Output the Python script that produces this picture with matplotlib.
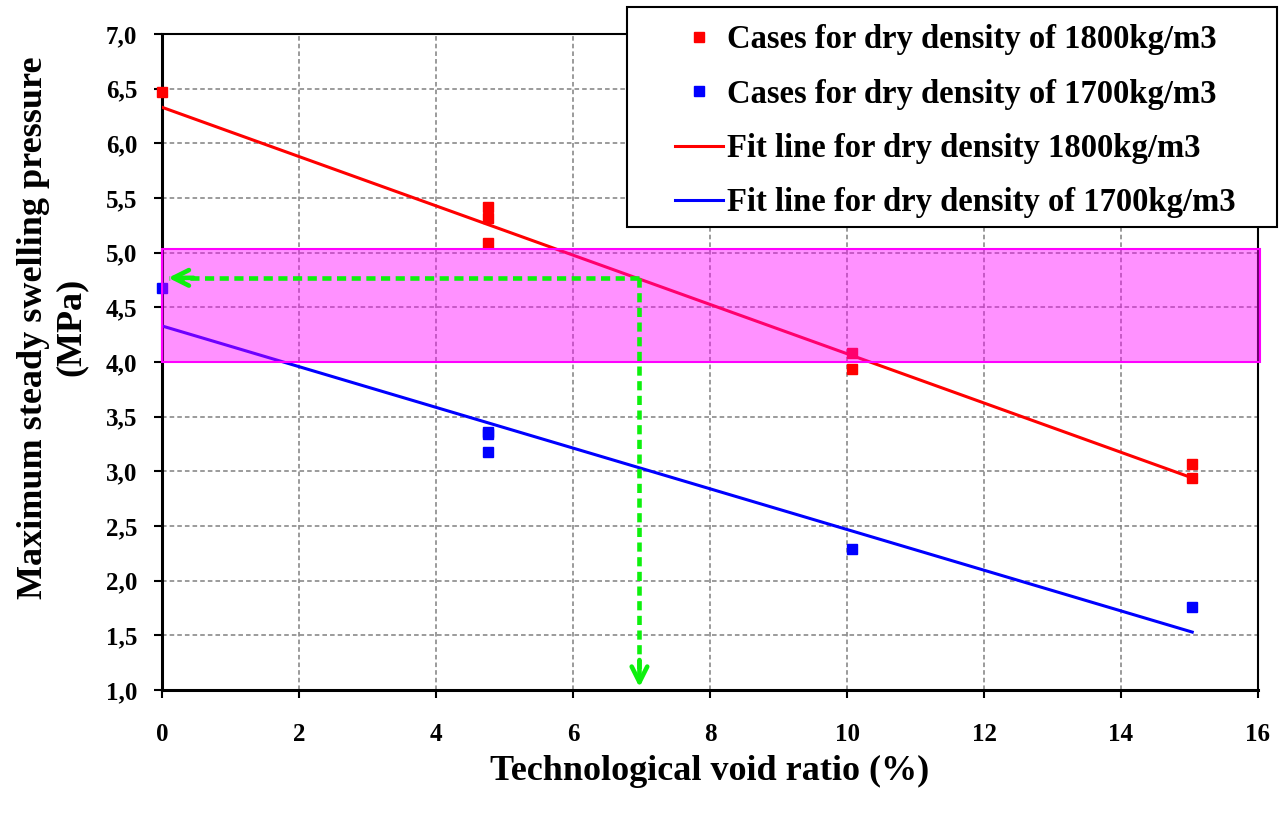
import matplotlib.pyplot as plt
from matplotlib.patches import Rectangle

# Measured cases (void ratio in %, swelling pressure in MPa)
x_1800 = [0.0, 4.76, 4.76, 4.76, 10.07, 10.07, 15.04, 15.04]
y_1800 = [6.47, 5.42, 5.32, 5.09, 4.08, 3.94, 3.07, 2.94]
x_1700 = [0.0, 4.76, 4.76, 4.76, 10.07, 15.04]
y_1700 = [4.68, 3.36, 3.34, 3.18, 2.29, 1.76]

# Fit line end points
fit_x = [0.0, 15.04]
fit_1800 = [6.33, 2.94]
fit_1700 = [4.33, 1.53]

# Target band and read-off point
band = [4.0, 5.03]
read_x, read_y = 6.97, 4.77

x_ticks = [0, 2, 4, 6, 8, 10, 12, 14, 16]
y_ticks = [1.0, 1.5, 2.0, 2.5, 3.0, 3.5, 4.0, 4.5, 5.0, 5.5, 6.0, 6.5, 7.0]
y_tick_labels = ['1,0', '1,5', '2,0', '2,5', '3,0', '3,5', '4,0', '4,5',
                 '5,0', '5,5', '6,0', '6,5', '7,0']

plt.rcParams['font.family'] = 'Liberation Serif'
plt.rcParams['font.weight'] = 'bold'

W, H = 1280, 814
fig = plt.figure(figsize=(12.8, 8.14), dpi=100)
ax = fig.add_axes([0.1266, 0.1523, 0.8562, 0.8059])

# translucent band drawn over the data, under the green arrows
ax.axhspan(band[0], band[1], xmin=0, xmax=1.002, facecolor=(1, 0, 1, 0.43),
           edgecolor='#ff00ff', linewidth=1.5, zorder=5, clip_on=False)

ax.plot(fit_x, fit_1800, color='#ff0000', lw=2.2, zorder=3,
        label='Fit line for dry density 1800kg/m3')
ax.plot(fit_x, fit_1700, color='#0000ff', lw=2.2, zorder=3,
        label='Fit line for dry density of 1700kg/m3')
ax.plot(x_1800, y_1800, 's', color='#ff0000', ms=6.5, zorder=4,
        label='Cases for dry density of 1800kg/m3', clip_on=False)
ax.plot(x_1700, y_1700, 's', color='#0000ff', ms=6.5, zorder=4,
        label='Cases for dry density of 1700kg/m3', clip_on=False)

# green dashed arrows
green = '#0df00d'
ax.plot([read_x, 0.1], [read_y, read_y], color=green, lw=3.3,
        dashes=(2, 1.2), zorder=6)
ax.plot([read_x, read_x], [read_y, 1.08], color=green, lw=3.3,
        dashes=(2, 1.2), zorder=6)
ax.annotate('', xy=(0.05, read_y), xytext=(0.5, read_y),
            arrowprops=dict(arrowstyle='->', color=green, lw=3.3,
                            mutation_scale=28), zorder=7)
ax.annotate('', xy=(read_x, 1.0), xytext=(read_x, 1.3),
            arrowprops=dict(arrowstyle='->', color=green, lw=3.3,
                            mutation_scale=28), zorder=7)

ax.set_xlim(0, 16)
ax.set_ylim(1.0, 7.0)
ax.set_xticks(x_ticks)
ax.set_yticks(y_ticks)
ax.set_yticklabels(y_tick_labels)
ax.tick_params(direction='out', length=6, width=1.5, labelsize=18)
ax.tick_params(axis='x', pad=18)
ax.tick_params(axis='y', pad=12)
ax.grid(True, color='#808080', linestyle=(0, (3, 2)), linewidth=1.1, zorder=0)
ax.set_axisbelow(True)
for side in ['left', 'bottom']:
    ax.spines[side].set_linewidth(2.2)
for side in ['top', 'right']:
    ax.spines[side].set_linewidth(1.5)

ax.set_xlabel('Technological void ratio (%)', fontsize=26, fontweight='bold',
              labelpad=6)
ax.set_ylabel('Maximum steady swelling pressure\n(MPa)', fontsize=26,
              fontweight='bold', linespacing=1.2)
ax.yaxis.set_label_coords(-0.0675, 0.553)

# legend box (frame drawn separately to match the padding of the original)
fig.patches.append(Rectangle((627 / W, 1 - 227 / H), 650 / W, 220 / H,
                             transform=fig.transFigure, facecolor='white',
                             edgecolor='black', linewidth=1.5, zorder=8))
handles, labels = ax.get_legend_handles_labels()
order = [2, 3, 0, 1]
leg = fig.legend([handles[i] for i in order], [labels[i] for i in order],
                 loc='upper left', bbox_to_anchor=(675 / W, 1 - 24 / H),
                 fontsize=23.5, frameon=False, borderpad=0, borderaxespad=0,
                 labelspacing=0.72, handlelength=1.47, handletextpad=0.12,
                 markerscale=1.0)
leg.set_zorder(9)
for t in leg.get_texts():
    t.set_fontweight('bold')

fig.savefig('out.png', dpi=100)
